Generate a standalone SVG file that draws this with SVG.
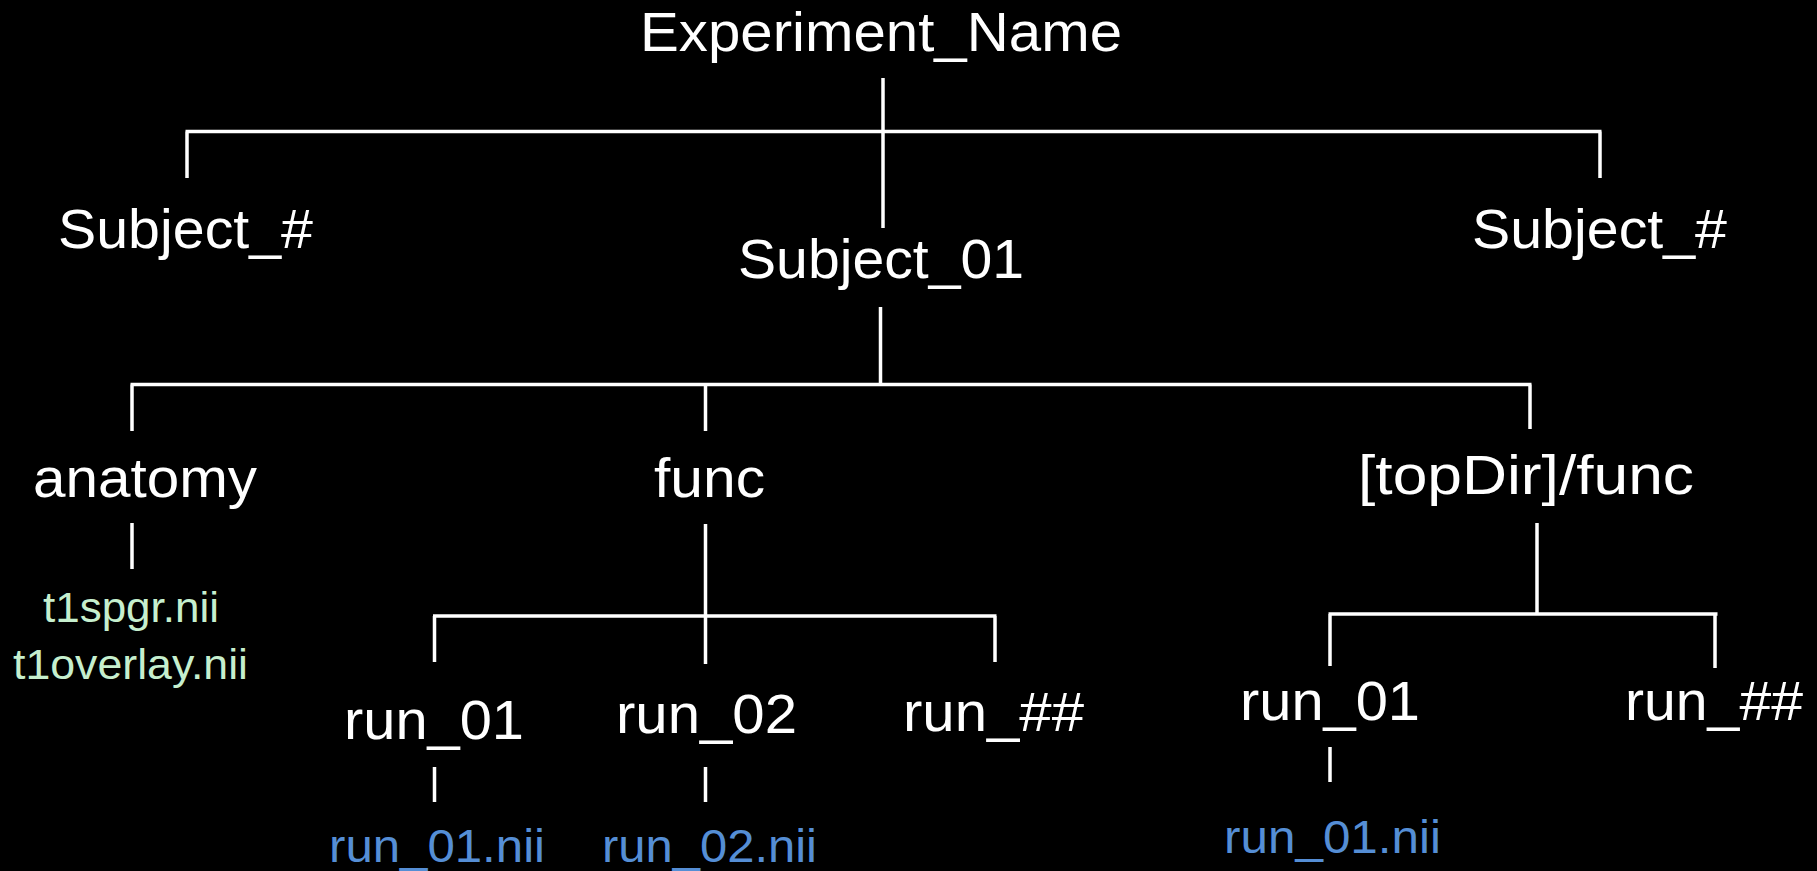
<svg xmlns="http://www.w3.org/2000/svg" width="1817" height="871" viewBox="0 0 1817 871">
<style>
.t{font-family:"Liberation Sans",Arial,sans-serif;text-anchor:middle;fill:#ffffff}
.m{font-size:56px}
.g{font-size:42px;fill:#c6efce}
.b{font-size:46px;fill:#558ed5}
.c{stroke:#ffffff;stroke-width:3.5;fill:none;stroke-linecap:butt}
</style>
<rect width="1817" height="871" fill="#000000"/>
<g id="connectors" class="c">
<path d="M883 78 V228"/>
<path d="M185.5 131.5 H1601.5 M187 131.5 V178 M1600 131.5 V178"/>
<path d="M880.5 307 V384"/>
<path d="M130.5 384.5 H1531.5 M132 384.5 V431 M705.5 384.5 V431 M1530 384.5 V429"/>
<path d="M132 523 V569"/>
<path d="M705.5 524 V664"/>
<path d="M433 616 H996.5 M434.5 616 V662 M995 616 V662"/>
<path d="M434.5 767 V802 M705.5 767 V802"/>
<path d="M1537 523 V614"/>
<path d="M1328.5 614 H1717.5 M1330 614 V666 M1715 614 V668"/>
<path d="M1330 747 V782"/>
</g>
<g id="experiment_name"><text class="t m" x="881" y="51" textLength="482" lengthAdjust="spacingAndGlyphs">Experiment_Name</text></g>
<g id="subject_left"><text class="t m" x="185.5" y="248" textLength="255" lengthAdjust="spacingAndGlyphs">Subject_#</text></g>
<g id="subject_01"><text class="t m" x="881" y="278" textLength="286" lengthAdjust="spacingAndGlyphs">Subject_01</text></g>
<g id="subject_right"><text class="t m" x="1599.5" y="248" textLength="255" lengthAdjust="spacingAndGlyphs">Subject_#</text></g>
<g id="anatomy"><text class="t m" x="145" y="497" textLength="224" lengthAdjust="spacingAndGlyphs">anatomy</text></g>
<g id="func"><text class="t m" x="709.5" y="497" textLength="111" lengthAdjust="spacingAndGlyphs">func</text></g>
<g id="topdir_func"><text class="t m" x="1526" y="494" textLength="336" lengthAdjust="spacingAndGlyphs">[topDir]/func</text></g>
<g id="anatomy_files">
<text class="t g" x="131" y="622" textLength="176" lengthAdjust="spacingAndGlyphs">t1spgr.nii</text>
<text class="t g" x="130.5" y="679" textLength="235" lengthAdjust="spacingAndGlyphs">t1overlay.nii</text>
</g>
<g id="run_01"><text class="t m" x="434" y="739" textLength="180" lengthAdjust="spacingAndGlyphs">run_01</text></g>
<g id="run_02"><text class="t m" x="706.5" y="733" textLength="181" lengthAdjust="spacingAndGlyphs">run_02</text></g>
<g id="run_nn_mid"><text class="t m" x="993.5" y="731" textLength="181" lengthAdjust="spacingAndGlyphs">run_##</text></g>
<g id="run_01_right"><text class="t m" x="1330" y="720" textLength="180" lengthAdjust="spacingAndGlyphs">run_01</text></g>
<g id="run_nn_right"><text class="t m" x="1714" y="720" textLength="178" lengthAdjust="spacingAndGlyphs">run_##</text></g>
<g id="run_01_nii"><text class="t b" x="437" y="862" textLength="216" lengthAdjust="spacingAndGlyphs">run_01.nii</text></g>
<g id="run_02_nii"><text class="t b" x="709.5" y="862" textLength="215" lengthAdjust="spacingAndGlyphs">run_02.nii</text></g>
<g id="run_01_nii_right"><text class="t b" x="1332.5" y="853" textLength="217" lengthAdjust="spacingAndGlyphs">run_01.nii</text></g>
</svg>
